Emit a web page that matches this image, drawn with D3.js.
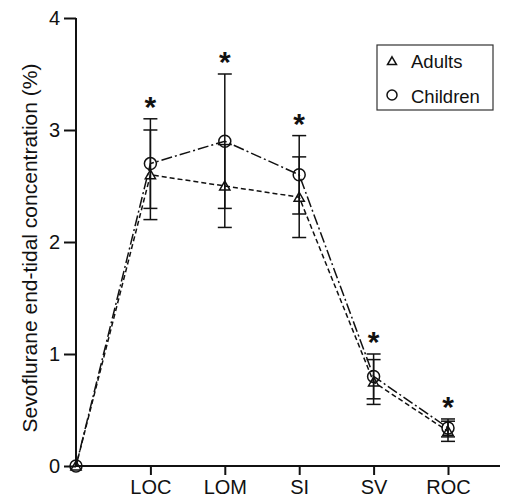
<!DOCTYPE html>
<html>
<head>
<meta charset="utf-8">
<script src="https://cdn.jsdelivr.net/npm/d3@7"></script>
<style>
  body { margin: 0; background: #fff; }
  text { font-family: "Liberation Sans", Arial, sans-serif; fill: #111; }
</style>
</head>
<body>
<svg width="510" height="500"></svg>
<script>
'use strict'

const categories = ['', 'LOC', 'LOM', 'SI', 'SV', 'ROC'];
const adults = [0, 2.6, 2.5, 2.4, 0.75, 0.31];
const adultsErr = [0, 0.4, 0.37, 0.36, 0.2, 0.09];
const children = [0, 2.7, 2.9, 2.6, 0.8, 0.34];
const childrenErr = [0, 0.4, 0.6, 0.35, 0.2, 0.08];
const starred = ['LOC', 'LOM', 'SI', 'SV', 'ROC'];
const yTicks = [0, 1, 2, 3, 4];

const svg = d3.select('svg');
const plotLeft = 76, plotRight = 500, plotTop = 18, plotBottom = 466;

const x = d3.scalePoint().domain(categories).range([76, 448]);
const y = d3.scaleLinear().domain([0, 4]).range([plotBottom, plotTop]);

// axes
const yAxis = svg.append('g')
  .attr('transform', `translate(${plotLeft},0)`)
  .call(d3.axisLeft(y).tickValues(yTicks).tickSize(12).tickPadding(4).tickFormat(d3.format('d')));
const xAxis = svg.append('g')
  .attr('transform', `translate(0,${plotBottom})`)
  .call(d3.axisBottom(x).tickValues(categories.slice(1)).tickSize(9).tickPadding(5));
xAxis.select('.domain').attr('d', `M${plotLeft},0H${plotRight}`);
yAxis.select('.domain').attr('d', `M0,${plotTop}V${plotBottom}`);
[xAxis, yAxis].forEach(a => {
  a.selectAll('.domain, line').attr('stroke', '#111').attr('stroke-width', 2);
  a.selectAll('text').attr('font-size', 20).attr('font-family', '"Liberation Sans", Arial, sans-serif').attr('fill', '#111');
});

svg.append('text')
  .attr('transform', `translate(37,248) rotate(-90)`)
  .attr('text-anchor', 'middle')
  .attr('font-size', 21)
  .text('Sevoflurane end-tidal concentration (%)');

const series = [
  { vals: adults, err: adultsErr, dash: '5,3', shape: 'tri' },
  { vals: children, err: childrenErr, dash: '11,3,2,3', shape: 'circ' }
];

// error bars
series.forEach(s => {
  const g = svg.append('g').attr('stroke', '#111').attr('stroke-width', 1.5);
  categories.forEach((c, i) => {
    if (!s.err[i]) return;
    const cx = x(c);
    const hi = y(s.vals[i] + s.err[i]), lo = y(s.vals[i] - s.err[i]);
    g.append('line').attr('x1', cx).attr('x2', cx).attr('y1', hi).attr('y2', lo);
    g.append('line').attr('x1', cx - 7).attr('x2', cx + 7).attr('y1', hi).attr('y2', hi);
    g.append('line').attr('x1', cx - 7).attr('x2', cx + 7).attr('y1', lo).attr('y2', lo);
  });
});

// lines
const line = d3.line().x((d, i) => x(categories[i])).y(d => y(d));
series.forEach(s => {
  svg.append('path')
    .attr('d', line(s.vals))
    .attr('fill', 'none')
    .attr('stroke', '#111')
    .attr('stroke-width', 1.5)
    .attr('stroke-dasharray', s.dash);
});

// markers
const tri = d3.symbol().type(d3.symbolTriangle).size(45);
function drawMarker(g, shape, cx, cy) {
  if (shape === 'circ') {
    g.append('circle').attr('cx', cx).attr('cy', cy).attr('r', 6)
      .attr('fill', 'none').attr('stroke', '#111').attr('stroke-width', 1.5);
  } else {
    g.append('path').attr('d', tri()).attr('transform', `translate(${cx},${cy + 1})`)
      .attr('fill', 'none').attr('stroke', '#111').attr('stroke-width', 1.5);
  }
}
series.forEach(s => {
  const g = svg.append('g');
  categories.forEach((c, i) => drawMarker(g, s.shape, x(c), y(s.vals[i])));
});

// significance asterisks
starred.forEach(c => {
  const i = categories.indexOf(c);
  const hiVal = Math.max(adults[i] + adultsErr[i], children[i] + childrenErr[i]);
  svg.append('text')
    .attr('x', x(c)).attr('y', y(hiVal) - 2)
    .attr('text-anchor', 'middle')
    .attr('font-family', '"Liberation Serif", serif')
    .attr('font-weight', 'bold')
    .attr('font-size', 30)
    .text('*');
});

// legend
const lg = svg.append('g');
lg.append('rect').attr('x', 377).attr('y', 45).attr('width', 116).attr('height', 65)
  .attr('fill', '#fff').attr('stroke', '#333').attr('stroke-width', 1.2);
const legendItems = [['tri', 'Adults', 68], ['circ', 'Children', 103]];
legendItems.forEach(([shape, label, ly]) => {
  if (shape === 'circ') {
    lg.append('circle').attr('cx', 392).attr('cy', ly - 8).attr('r', 5)
      .attr('fill', 'none').attr('stroke', '#111').attr('stroke-width', 1.5);
  } else {
    lg.append('path').attr('d', d3.symbol().type(d3.symbolTriangle).size(35)())
      .attr('transform', `translate(392,${ly - 6})`)
      .attr('fill', 'none').attr('stroke', '#111').attr('stroke-width', 1.5);
  }
  lg.append('text').attr('x', 411).attr('y', ly).attr('font-size', 18.5).text(label);
});
</script>
</body>
</html>
